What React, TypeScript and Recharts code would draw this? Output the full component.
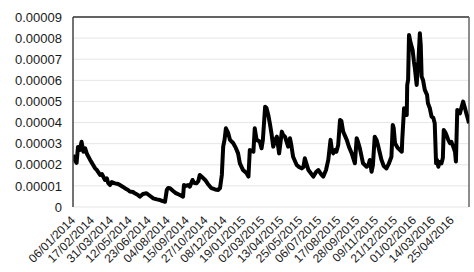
import React from "react";
import { LineChart, Line, XAxis, YAxis, CartesianGrid, ReferenceLine } from "recharts";

const START_DATE = "06/01/2014";

// day offsets from 06/01/2014
const dayOffsets = [
  0, 4, 8, 11, 15, 19, 23, 27, 31, 38,
  42, 49, 53, 60, 64, 71, 75, 78, 82, 86,
  93, 100, 104, 111, 115, 122, 126, 133, 137, 144,
  148, 155, 163, 171, 178, 186, 193, 199, 204, 208,
  211, 215, 222, 228, 237, 244, 246, 250, 255, 259,
  265, 269, 274, 278, 281, 286, 293, 299, 307, 315,
  322, 326, 330, 333, 336, 339, 344, 348, 355, 361,
  366, 370, 377, 385, 389, 392, 400, 403, 407, 414,
  418, 421, 426, 429, 433, 437, 440, 444, 448, 452,
  457, 463, 466, 470, 477, 481, 484, 488, 496, 501,
  507, 511, 514, 517, 522, 527, 533, 539, 544, 550,
  555, 561, 566, 571, 574, 577, 581, 584, 588, 592,
  595, 599, 607, 612, 618, 625, 629, 632, 636, 643,
  651, 655, 658, 662, 665, 669, 673, 677, 684, 689,
  695, 700, 706, 709, 711, 714, 720, 729, 730, 734,
  737, 740, 741, 743, 745, 748, 753, 756, 758, 762,
  764, 766, 769, 771, 773, 776, 780, 785, 787, 791,
  795, 799, 802, 805, 807, 810, 813, 817, 820, 822,
  826, 828, 832, 836, 839, 843, 847, 849, 852, 854,
  858, 861, 865, 869, 873, 875, 878,
];

const seriesValues = [
  2.46e-5, 2.23e-5, 2.09e-5, 2.84e-5, 2.70e-5, 3.09e-5, 2.62e-5, 2.78e-5, 2.51e-5, 2.23e-5,
  2.09e-5, 1.83e-5, 1.75e-5, 1.52e-5, 1.56e-5, 1.28e-5, 1.36e-5, 1.14e-5, 1.04e-5, 1.18e-5,
  1.12e-5, 1.09e-5, 1.04e-5, 0.95e-5, 0.89e-5, 0.81e-5, 0.73e-5, 0.71e-5, 0.65e-5, 0.57e-5,
  0.49e-5, 0.62e-5, 0.65e-5, 0.52e-5, 0.41e-5, 0.36e-5, 0.33e-5, 0.28e-5, 0.25e-5, 0.81e-5,
  0.90e-5, 0.89e-5, 0.76e-5, 0.66e-5, 0.57e-5, 0.49e-5, 1.04e-5, 1.00e-5, 1.04e-5, 0.96e-5,
  1.28e-5, 1.14e-5, 1.12e-5, 1.23e-5, 1.52e-5, 1.42e-5, 1.28e-5, 1.09e-5, 0.89e-5, 0.83e-5,
  0.81e-5, 0.90e-5, 1.52e-5, 2.86e-5, 3.18e-5, 3.73e-5, 3.51e-5, 3.18e-5, 3.03e-5, 2.80e-5,
  2.54e-5, 2.07e-5, 1.75e-5, 1.60e-5, 1.44e-5, 2.70e-5, 2.62e-5, 3.73e-5, 3.18e-5, 3.10e-5,
  2.78e-5, 3.18e-5, 4.75e-5, 4.69e-5, 4.36e-5, 3.89e-5, 3.49e-5, 2.86e-5, 3.18e-5, 3.33e-5,
  2.54e-5, 3.57e-5, 3.41e-5, 3.33e-5, 2.86e-5, 3.26e-5, 2.94e-5, 2.38e-5, 1.99e-5, 1.90e-5,
  1.83e-5, 1.90e-5, 2.31e-5, 2.09e-5, 1.75e-5, 1.61e-5, 1.44e-5, 1.66e-5, 1.75e-5, 1.56e-5,
  1.44e-5, 1.75e-5, 2.23e-5, 3.18e-5, 2.70e-5, 2.54e-5, 2.70e-5, 2.62e-5, 2.94e-5, 4.12e-5,
  4.08e-5, 3.57e-5, 3.18e-5, 2.84e-5, 2.54e-5, 2.07e-5, 3.26e-5, 3.08e-5, 2.78e-5, 2.07e-5,
  1.91e-5, 1.99e-5, 2.23e-5, 1.67e-5, 1.99e-5, 3.33e-5, 3.18e-5, 2.86e-5, 2.23e-5, 1.94e-5,
  1.83e-5, 2.04e-5, 2.38e-5, 3.89e-5, 3.74e-5, 3.02e-5, 2.80e-5, 2.62e-5, 3.18e-5, 4.68e-5,
  4.60e-5, 4.36e-5, 5.78e-5, 6.02e-5, 8.15e-5, 7.82e-5, 7.44e-5, 6.87e-5, 6.57e-5, 5.78e-5,
  6.49e-5, 6.97e-5, 8.23e-5, 7.68e-5, 6.18e-5, 6.02e-5, 5.55e-5, 5.31e-5, 4.91e-5, 4.69e-5,
  4.28e-5, 4.22e-5, 3.97e-5, 2.07e-5, 2.23e-5, 1.91e-5, 2.13e-5, 2.07e-5, 2.32e-5, 3.65e-5,
  3.51e-5, 3.41e-5, 3.18e-5, 3.02e-5, 3.08e-5, 2.86e-5, 2.61e-5, 2.15e-5, 4.60e-5, 4.50e-5,
  4.44e-5, 4.69e-5, 4.99e-5, 4.69e-5, 4.36e-5, 4.22e-5, 3.97e-5,
];

const xTickLabels = [
  "06/01/2014", "17/02/2014", "31/03/2014", "12/05/2014", "23/06/2014", "04/08/2014",
  "15/09/2014", "27/10/2014", "08/12/2014", "19/01/2015", "02/03/2015", "13/04/2015",
  "25/05/2015", "06/07/2015", "17/08/2015", "28/09/2015", "09/11/2015", "21/12/2015",
  "01/02/2016", "14/03/2016", "25/04/2016",
];

const yTickValues = [0, 0.00001, 0.00002, 0.00003, 0.00004, 0.00005, 0.00006, 0.00007, 0.00008, 0.00009];
const yTickLabels = ["0", "0.00001", "0.00002", "0.00003", "0.00004", "0.00005", "0.00006", "0.00007", "0.00008", "0.00009"];

const X_END_DAY = 878;

function parseDay(s: string): number {
  const [d, m, y] = s.split("/").map(Number);
  const [d0, m0, y0] = START_DATE.split("/").map(Number);
  return Math.round((Date.UTC(y, m - 1, d) - Date.UTC(y0, m0 - 1, d0)) / 86400000);
}

const xTickDays = xTickLabels.map(parseDay);
const labelByDay: Record<number, string> = {};
xTickLabels.forEach((l, i) => (labelByDay[xTickDays[i]] = l));

const data = dayOffsets.map((d, i) => ({ day: d, v: seriesValues[i] }));

const FONT = "'Liberation Sans', Arial, sans-serif";

const XTick = (props: any) => {
  const { x, y, payload } = props;
  return (
    <g transform={`translate(${x},${y + 11}) rotate(-45)`}>
      <text x={0} y={0} textAnchor="end" dy="0.35em" fontSize={12} fontFamily={FONT} fill="#1a1a1a">
        {labelByDay[payload.value]}
      </text>
    </g>
  );
};

export default function App() {
  return (
    <div style={{ position: "absolute", left: 0, top: 0, background: "#fff" }}>
      <LineChart
        width={474}
        height={272}
        data={data}
        margin={{ top: 17, right: 5, bottom: 0, left: 0 }}
      >
        <CartesianGrid horizontal vertical={false} stroke="#e6e6e6" />
        <XAxis
          type="number"
          dataKey="day"
          domain={[0, X_END_DAY]}
          ticks={xTickDays}
          interval={0}
          tick={<XTick />}
          tickLine={false}
          tickSize={0}
          tickMargin={0}
          axisLine={false}
          height={65}
          allowDataOverflow
        />
        <YAxis
          type="number"
          domain={[0, 0.00009]}
          ticks={yTickValues}
          interval={0}
          width={73}
          tickLine={false}
          tickSize={0}
          tickMargin={11}
          axisLine={{ stroke: "#444", strokeWidth: 1.5 }}
          tickFormatter={(v: number, i: number) => yTickLabels[i] ?? String(v)}
          tick={{ fontSize: 13, fontFamily: FONT, fill: "#1a1a1a" }}
        />
        <ReferenceLine y={0.00009} stroke="#333" strokeWidth={1.5} ifOverflow="visible" />
        <ReferenceLine x={X_END_DAY} stroke="#666" strokeWidth={1.5} ifOverflow="visible" />
        <Line
          type="linear"
          dataKey="v"
          stroke="#000"
          strokeWidth={4}
          dot={false}
          isAnimationActive={false}
          strokeLinejoin="round"
        />
      </LineChart>
    </div>
  );
}
